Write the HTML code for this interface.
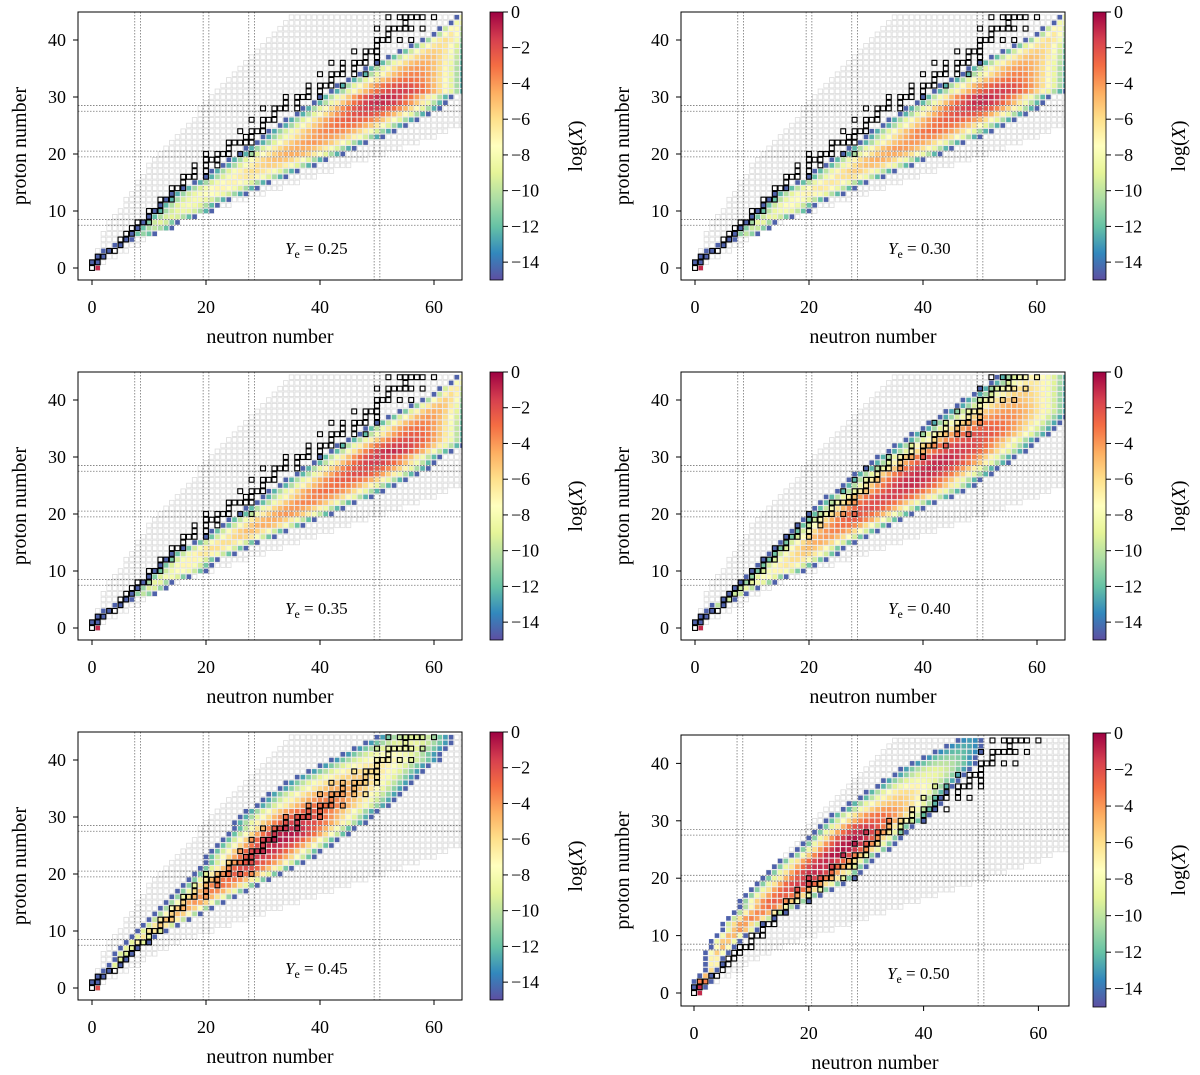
<!DOCTYPE html>
<html><head><meta charset="utf-8">
<style>
html,body{margin:0;padding:0;background:#fff;}
svg{display:block;font-family:"Liberation Serif",serif;}
</style></head>
<body>
<svg id="fig" width="1200" height="1075" viewBox="0 0 1200 1075" xmlns="http://www.w3.org/2000/svg">
<defs>
<linearGradient id="spectral" x1="0" y1="0" x2="0" y2="1">
<stop offset="0" stop-color="#9e0142"/><stop offset="0.1" stop-color="#d53e4f"/><stop offset="0.2" stop-color="#f46d43"/><stop offset="0.3" stop-color="#fdae61"/><stop offset="0.4" stop-color="#fee08b"/><stop offset="0.5" stop-color="#ffffbf"/><stop offset="0.6" stop-color="#e6f598"/><stop offset="0.7" stop-color="#abdda4"/><stop offset="0.8" stop-color="#66c2a5"/><stop offset="0.9" stop-color="#3288bd"/><stop offset="1" stop-color="#5e4fa2"/>
</linearGradient>
</defs>
</svg>
<script>
// ---- data (index = proton number Z, 0..44) ----
const greyLo=[1,0,1,1,2,2,2,3,3,4,5,6,6,7,8,8,9,10,10,11,12,13,14,15,16,17,18,19,19,20,21,22,23,24,25,26,27,28,29,30,31,32,33,34,35];
const greyHi=[1,2,4,6,8,9,11,13,15,18,21,24,27,30,33,36,39,42,45,48,51,54,57,60,62,66,66,66,66,66,66,66,66,66,66,66,66,66,66,66,66,66,66,66,66];
const stable=[[0],[0,1],[1,2],[3,4],[5],[5,6],[6,7],[7,8],[8,9,10],[10],[10,11,12],[12],[12,13,14],[14],[14,15,16],[16],[16,17,18,20],[18,20],[18,20,22],[20,21,22],[20,22,23,24,26,28],[24],[24,25,26,27,28],[27,28],[26,28,29,30],[30],[28,30,31,32],[32],[30,32,33,34,36],[34,36],[34,36,37,38,40],[38,40],[38,40,41,42,44],[42],[40,42,43,44,46,48],[44,46],[42,44,46,47,48,50],[48,50],[46,48,49,50],[50],[50,51,52,54,56],[52],[50,52,53,54,55,56,58],[55],[52,54,55,56,57,58,60]];
const yeLabels=["0.25","0.30","0.35","0.40","0.45","0.50"];
const lo1=[1,0,1,2,4,6,7,8,9,10,11,12,13,14,16,18,20,21,23,24,26,27,29,30,31,33,34,36,37,39,40,42,43,45,47,48,50,52,54,56,58,60,61,63,64];
const hi1=[1,1,2,3,5,7,11,14,15,18,21,22,24,27,29,31,34,36,39,41,44,46,48,51,53,55,57,59,61,62,63,66,66,66,66,66,66,66,66,66,66,66,66,66,66];
const pk1=[-1,-6,-8,-12,-12,-11,-11,-10,-9,-9,-8.5,-8,-8,-7.5,-7,-7,-6.5,-6,-5.5,-5,-4.5,-4.5,-4,-4,-3.5,-3,-2.5,-2,-1.5,-1,-1,-1.5,-2,-3,-3.5,-4,-4.5,-5,-5.5,-6,-6,-6.5,-7,-7.5,-8];
const lo2=lo1;
const hi2=[1,1,2,3,5,7,11,13,14,17,20,21,23,26,28,30,33,35,38,40,43,45,47,50,52,54,56,58,60,61,62,65,66,66,66,66,66,66,66,66,66,66,66,66,66];
const pk2=[-1,-5,-7,-11,-11,-10,-10,-9.5,-8.5,-8.5,-8,-7.5,-7.5,-7,-6.5,-6.5,-6,-5.5,-5,-4.5,-4.5,-4,-4,-3.5,-3,-3,-2.5,-2,-1.5,-1,-1,-1.5,-2,-3,-3.5,-4,-4.5,-5,-5.5,-6,-6,-6.5,-7,-7.5,-8];
const lo3=lo1;
const hi3=[1,1,2,3,5,7,11,13,14,17,20,21,22,25,27,29,32,34,37,39,42,44,46,49,51,53,55,57,59,60,61,63,65,66,66,66,66,66,66,66,66,66,66,66,66];
const pk3=[-1,-5,-7,-11,-11,-10,-10,-9,-8.5,-8,-7.5,-7,-7,-6.5,-6,-6,-5.5,-5,-4.5,-4.5,-4,-4,-3.5,-3.5,-3,-3,-2.5,-2,-2,-1.5,-1.5,-1,-1.5,-2,-2.5,-3,-3.5,-4,-4.5,-5,-5.5,-6,-6.5,-7,-7.5];
const lo4=[1,0,1,2,3,5,6,7,8,9,10,11,12,13,14,15,16,17,18,19,20,21,22,23,25,26,27,28,30,31,32,34,35,37,38,40,41,43,44,46,47,49,50,52,53];
const hi4=[1,1,2,3,5,7,9,11,14,16,19,21,23,25,26,28,30,32,34,36,38,40,42,45,47,49,50,52,53,55,56,58,59,60,62,63,64,65,66,66,66,66,66,66,66];
const pk4=[-1,-4,-7,-10,-10,-9.5,-9,-8.5,-8,-7.5,-7,-6.5,-6,-5.5,-5,-4.5,-4,-3.5,-3,-2.5,-2.5,-2,-2,-1.5,-1.5,-1,-1,-1,-1,-1,-1,-1.5,-1.5,-2,-2,-2.5,-3,-3.5,-4,-4.5,-5,-5.5,-6,-6.5,-7];
const lo5=[1,0,1,2,3,4,4,5,6,7,8,9,10,11,12,13,14,15,16,17,18,19,20,20,21,22,23,24,25,25,26,27,29,30,31,33,34,36,38,40,42,44,46,48,50];
const hi5=[1,1,2,3,5,6,7,8,10,11,13,15,17,19,21,23,25,27,29,31,33,35,37,39,40,42,43,45,46,48,49,50,52,53,54,55,56,57,58,59,61,61,62,63,63];
const pk5=[-2,-2,-4,-8,-9,-9,-8.5,-8,-7,-6.5,-6,-5.5,-5,-5,-4.5,-4,-4,-3.5,-3,-3,-2.5,-2,-2,-1.5,-1,-1,-0.5,-0.5,-1,-1.5,-2,-2.5,-3,-3.5,-4,-4.5,-5,-5.5,-6,-6.5,-7,-7.5,-8,-8.5,-9];
const lo6=[1,0,0,1,2,2,2,2,3,3,4,5,5,6,7,8,8,9,10,11,12,13,14,15,17,18,19,20,21,22,23,24,26,27,29,30,32,33,35,36,38,40,42,44,46];
const hi6=[1,2,3,3,4,5,5,6,7,8,9,11,12,14,16,18,20,22,24,26,28,29,30,31,32,34,35,36,37,38,40,41,42,43,43,44,45,46,47,48,49,49,50,50,50];
const pk6=[-1,-1,-2,-5,-6,-6,-6,-5.5,-5,-5,-4.5,-4,-4,-3.5,-3.5,-3,-2.5,-2.5,-2,-1.5,-1.5,-1,-1,-1,-0.5,-0.5,-0.5,-0.5,-1,-1.5,-2.5,-3,-4,-5,-5.5,-6,-7,-8,-8.5,-9,-10,-11,-12,-12.5,-13];
const xTicks=[0,20,40,60];
const yTicks=[0,10,20,30,40];
const cbTicks=[0,-2,-4,-6,-8,-10,-12,-14];
const magicN=[8,20,28,50];
const magicZ=[8,20,28];

// ---- layout ----
const panels=[
 {L:78,R:462,T:12,B:280,x0:92,y0:268,u:5.7,cb:490,cT:12,cB:280,lo:lo1,hi:hi1,pk:pk1},
 {L:681,R:1065,T:12,B:280,x0:695,y0:268,u:5.7,cb:1093,cT:12,cB:280,lo:lo2,hi:hi2,pk:pk2},
 {L:78,R:462,T:372,B:640,x0:92,y0:628,u:5.7,cb:490,cT:372,cB:640,lo:lo3,hi:hi3,pk:pk3},
 {L:681,R:1065,T:372,B:640,x0:695,y0:628,u:5.7,cb:1093,cT:372,cB:640,lo:lo4,hi:hi4,pk:pk4},
 {L:78,R:462,T:732,B:1000,x0:92,y0:988,u:5.7,cb:490,cT:732,cB:1000,lo:lo5,hi:hi5,pk:pk5},
 {L:681,R:1069,T:735,B:1006,x0:694,y0:993,u:5.74,cb:1093,cT:733,cB:1007,lo:lo6,hi:hi6,pk:pk6}
];
const stops=["#9e0142","#d53e4f","#f46d43","#fdae61","#fee08b","#ffffbf","#e6f598","#abdda4","#66c2a5","#3288bd","#5e4fa2"];
function hx(c){return [parseInt(c.substr(1,2),16),parseInt(c.substr(3,2),16),parseInt(c.substr(5,2),16)];}
function cmap(v){let t=Math.min(1,Math.max(0,-v/15))*10;let i=Math.min(9,Math.floor(t));let f=t-i;let a=hx(stops[i]),b=hx(stops[i+1]);
 return "rgb("+a.map((x,k)=>Math.round(x+(b[k]-x)*f)).join(",")+")";}
const NS="http://www.w3.org/2000/svg";
const svg=document.getElementById('fig');
function mk(tag,attrs,parent){const e=document.createElementNS(NS,tag);for(const k in attrs)e.setAttribute(k,attrs[k]);(parent||svg).appendChild(e);return e;}

panels.forEach((p,pi)=>{
 const g=mk('g',{});
 
 
 const sx=n=>p.x0+n*p.u, sy=z=>p.y0-z*p.u;
 const cid='clip'+pi;
 const cp=mk('clipPath',{id:cid},g);mk('rect',{x:p.L,y:p.T,width:p.R-p.L,height:p.B-p.T},cp);
 const plot=mk('g',{'clip-path':'url(#'+cid+')'},g);
 
 
 const s=p.u*0.8;
 // grey nuclide grid
 const gg=mk('g',{fill:'none',stroke:'#dcdcdc','stroke-width':0.8},plot);
 
 
 for(let z=0;z<greyLo.length;z++)for(let n=greyLo[z];n<=greyHi[z];n++){
  mk('rect',{x:sx(n)-s/2,y:sy(z)-s/2,width:s,height:s},gg);}
 // magic number lines
 const ml=mk('g',{stroke:'#777','stroke-width':0.8,'stroke-dasharray':'1.5,1.5'},plot);
 
 
 magicN.forEach(m=>[m-0.5,m+0.5].forEach(v=>mk('line',{x1:sx(v),x2:sx(v),y1:p.T,y2:p.B},ml)));
 magicZ.forEach(m=>[m-0.5,m+0.5].forEach(v=>mk('line',{x1:p.L,x2:p.R,y1:sy(v),y2:sy(v)},ml)));
 // abundance cells
 const cg=mk('g',{},plot);
 
 
 for(let z=0;z<p.lo.length;z++){
  const lo=p.lo[z],hi=p.hi[z],pk=p.pk[z],c=(lo+hi)/2,h=Math.max(0.5,(hi-lo)/2);
  for(let n=lo;n<=hi;n++){
   const t=Math.abs(n-c)/h;const v=pk-(pk+14.5)*t*t;
   const r=mk('rect',{x:sx(n)-s/2,y:sy(z)-s/2,width:s,height:s,fill:cmap(v)},cg);
   
   
  }}
 // stable nuclides
 const sg=mk('g',{fill:'none',stroke:'#000','stroke-width':1.1},plot);
 
 
 const ss=p.u*0.85;
 stable.forEach((ns,z)=>ns.forEach(n=>mk('rect',{x:sx(n)-ss/2,y:sy(z)-ss/2,width:ss,height:ss},sg)));
 // frame
 const fr=mk('rect',{x:p.L,y:p.T,width:p.R-p.L,height:p.B-p.T,fill:'none',stroke:'#000','stroke-width':1},g);
 
 
 // ticks
 xTicks.forEach(v=>{mk('line',{x1:sx(v),x2:sx(v),y1:p.B,y2:p.B+5,stroke:'#000'},g);
  const t=mk('text',{x:sx(v),y:p.B+33,'font-size':18,'text-anchor':'middle'},g);t.textContent=v;
  
  });
 yTicks.forEach(v=>{mk('line',{x1:p.L-5,x2:p.L,y1:sy(v),y2:sy(v),stroke:'#000'},g);
  const t=mk('text',{x:p.L-12,y:sy(v)+6,'font-size':18,'text-anchor':'end'},g);t.textContent=v;
  
  });
 const xl=mk('text',{x:(p.L+p.R)/2,y:p.B+63,'font-size':20,'text-anchor':'middle'},g);xl.textContent='neutron number';
 
 
 const ym=(p.T+p.B)/2;
 const yl=mk('text',{x:p.L-52,y:ym,'font-size':20,'text-anchor':'middle',transform:'rotate(-90 '+(p.L-52)+' '+ym+')'},g);yl.textContent='proton number';
 
 
 // Ye label
 const ye=mk('text',{x:p.x0+193,y:p.y0-14,'font-size':17},g);
 
 
 ye.innerHTML='<tspan font-style="italic">Y</tspan><tspan font-size="12" dy="4">e</tspan><tspan dy="-4"> = '+yeLabels[pi]+'</tspan>';
 // colorbar
 const cb=mk('rect',{x:p.cb,y:p.cT,width:13,height:p.cB-p.cT,fill:'url(#spectral)',stroke:'#000','stroke-width':0.8},g);
 
 
 const cy=v=>p.cT+(-v/15)*(p.cB-p.cT);
 cbTicks.forEach(v=>{mk('line',{x1:p.cb+13,x2:p.cb+18,y1:cy(v),y2:cy(v),stroke:'#000'},g);
  const t=mk('text',{x:p.cb+21,y:cy(v)+6,'font-size':18},g);t.textContent=(v<0?'\u2212':'')+Math.abs(v);
  
  });
 const cl=mk('text',{x:p.cb+92,y:(p.cT+p.cB)/2,'font-size':20,'text-anchor':'middle',transform:'rotate(-90 '+(p.cb+92)+' '+((p.cT+p.cB)/2)+')'},g);
 cl.innerHTML='log(<tspan font-style="italic">X</tspan>)';
 
 
});
</script>
</body></html>
